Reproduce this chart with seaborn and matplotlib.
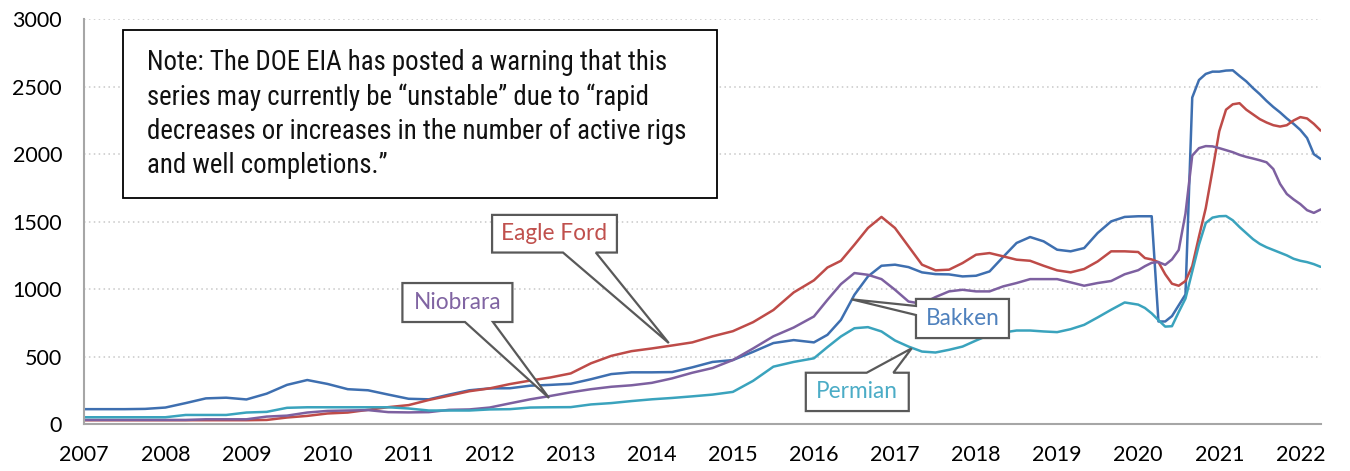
import numpy as np
import pandas as pd
import matplotlib
matplotlib.use("Agg")
import matplotlib.pyplot as plt
from matplotlib import font_manager as fm
from matplotlib.patches import Polygon, Rectangle
import seaborn as sns

# ---------------- data ----------------
quarter_months = [f"{y}-{m:02d}" for y in range(2007, 2016) for m in (1, 4, 7, 10)]
bimonth_months = [f"{y}-{m:02d}" for y in range(2016, 2020) for m in (1, 3, 5, 7, 9, 11)]
monthly_months = [f"{y}-{m:02d}" for y in range(2020, 2023) for m in range(1, 13)][:28]
months = quarter_months + bimonth_months + monthly_months

bakken = [
    110, 110, 110, 112, 122, 155, 190, 195, 182, 225, 290, 326,
    297, 258, 250, 218, 187, 183, 218, 250, 264, 265, 284, 290,
    298, 332, 370, 383, 383, 385, 420, 460, 474, 535, 600, 622,
    605, 661, 772, 958, 1094, 1173,
    1181, 1163, 1124, 1111, 1109, 1094,
    1099, 1131, 1238, 1342, 1386, 1354,
    1292, 1280, 1304, 1416, 1502, 1535,
    1540, 1540, 1540, 760, 760, 800, 880, 960, 2420, 2550, 2595, 2612,
    2612, 2620, 2622, 2580, 2540, 2490, 2445, 2395, 2350, 2310, 2265, 2225,
    2180, 2120, 2000, 1965,
]
eagle_ford = [
    28, 28, 28, 28, 28, 28, 28, 28, 28, 30, 48, 60,
    78, 85, 105, 125, 140, 178, 210, 243, 264, 296, 322, 345,
    375, 450, 505, 540, 560, 582, 605, 650, 688, 755, 845, 975,
    1065, 1160, 1210, 1329, 1453, 1535,
    1453, 1317, 1181, 1139, 1144, 1193,
    1255, 1267, 1243, 1218, 1210, 1173,
    1139, 1124, 1149, 1205, 1280, 1280,
    1275, 1230, 1220, 1200, 1110, 1040, 1025, 1060, 1170, 1390, 1600, 1880,
    2170, 2330, 2370, 2378, 2330, 2295, 2260, 2235, 2215, 2205, 2215, 2250,
    2275, 2265, 2225, 2175,
]
niobrara = [
    30, 30, 30, 30, 30, 30, 35, 35, 35, 55, 62, 85,
    97, 100, 103, 88, 86, 88, 105, 108, 122, 153, 183, 208,
    235, 258, 276, 287, 305, 338, 380, 415, 474, 560, 650, 715,
    797, 920, 1037, 1119, 1106, 1074,
    995, 908, 891, 941, 983, 995,
    983, 983, 1020, 1045, 1074, 1074,
    1074, 1050, 1025, 1045, 1060, 1110,
    1140, 1170, 1195, 1200, 1180, 1220, 1290, 1560, 1990, 2045, 2060, 2058,
    2045, 2030, 2015, 1995, 1980, 1968, 1955, 1940, 1890, 1780, 1705, 1665,
    1630, 1585, 1565, 1590,
]
permian = [
    50, 50, 50, 50, 50, 67, 67, 67, 85, 90, 120, 124,
    124, 124, 124, 124, 115, 100, 100, 100, 108, 110, 122, 124,
    125, 145, 155, 170, 183, 193, 205, 218, 238, 320, 425, 460,
    487, 570, 649, 710, 718, 686,
    619, 574, 537, 530, 550, 574,
    619, 661, 678, 693, 693, 686,
    681, 703, 735, 790, 847, 901,
    885, 860, 820, 770, 722, 725, 830, 930, 1130, 1330, 1490, 1530,
    1540, 1542, 1510, 1460, 1415, 1370, 1335, 1310, 1290, 1270, 1250, 1225,
    1210, 1200, 1185, 1165,
]

series_names = ["Bakken", "Eagle Ford", "Niobrara", "Permian"]
line_colors = ["#3E6FB0", "#BE4B48", "#7D60A0", "#3AA3BD"]
label_colors = ["#4F81BD", "#C0504D", "#8064A2", "#4BACC6"]
year_ticks = list(range(2007, 2023))
y_ticks = [0, 500, 1000, 1500, 2000, 2500, 3000]
note_text = ("Note: The DOE EIA has posted a warning that this\n"
             "series may currently be \u201cunstable\u201d due to \u201crapid\n"
             "decreases or increases in the number of active rigs\n"
             "and well completions.\u201d")

# ---------------- frame ----------------
def frac_year(s):
    y, m = s.split("-")
    return int(y) + (int(m) - 1) / 12.0

x = [frac_year(s) for s in months]
frames = []
for name, vals in zip(series_names, [bakken, eagle_ford, niobrara, permian]):
    frames.append(pd.DataFrame({"year": x, "value": vals, "series": name}))
df = pd.concat(frames, ignore_index=True)

sns.set_theme(style="white")
available = {f.name for f in fm.fontManager.ttflist}
base_font = "Lato" if "Lato" in available else "DejaVu Sans"
narrow_font = None
for cand in ["Liberation Sans Narrow", "Roboto Condensed", "DejaVu Sans Condensed",
             "Open Sans Condensed", "Noto Sans Condensed"]:
    if cand in available:
        narrow_font = cand
        break
plt.rcParams["font.family"] = [base_font, "DejaVu Sans"]

fig = plt.figure(figsize=(13.5, 4.71), dpi=100)
ax = fig.add_axes([84.3 / 1350, 47 / 471, (1321 - 84.3) / 1350, 404.7 / 471])

sns.lineplot(data=df, x="year", y="value", hue="series", hue_order=series_names,
             palette=line_colors, linewidth=1.8, ax=ax, legend=False,
             estimator=None, sort=False)

ax.set_xlim(2007, 2022.255)
ax.set_ylim(0, 3000)
ax.set_xticks(year_ticks)
ax.set_xticklabels([str(t) for t in year_ticks])
ax.set_yticks(y_ticks)
ax.set_xlabel("")
ax.set_ylabel("")
ax.yaxis.grid(True, linestyle=(0, (1, 2.2)), color="#C8C8C8", linewidth=1.1)
ax.xaxis.grid(False)
ax.set_axisbelow(True)
for side in ["top", "right"]:
    ax.spines[side].set_visible(False)
for side in ["left", "bottom"]:
    ax.spines[side].set_color("#A6A6A6")
    ax.spines[side].set_linewidth(1.5)
ax.tick_params(axis="both", which="major", direction="out", length=6, width=1.3,
               color="#A6A6A6", labelsize=15.5, labelcolor="black")
ax.tick_params(axis="x", pad=9)
ax.tick_params(axis="y", pad=10)

# ---------------- note box ----------------
ax.add_patch(Rectangle((2007.477, 1675), 2014.804 - 2007.477, 2921 - 1675,
                       facecolor="white", edgecolor="black", linewidth=1.3, zorder=5))
note_family = [narrow_font, "DejaVu Sans"] if narrow_font else ["DejaVu Sans"]
note_size = 19.4 if narrow_font else 15
ax.text(2007.773, 2300, note_text, ha="left", va="center", fontsize=note_size,
        family=note_family, linespacing=1.33, color="#111111", zorder=6)

# ---------------- callouts ----------------
def callout(ax, label, color, x0, x1, y0, y1, tip, base, edge):
    if edge == "bottom":
        pts = [(x0, y1), (x1, y1), (x1, y0), (base[1], y0), tip, (base[0], y0), (x0, y0)]
    elif edge == "top":
        pts = [(x0, y0), (x0, y1), (base[0], y1), tip, (base[1], y1), (x1, y1), (x1, y0)]
    else:  # left
        pts = [(x0, y1), (x1, y1), (x1, y0), (x0, y0), (x0, base[1]), tip, (x0, base[0])]
    ax.add_patch(Polygon(pts, closed=True, facecolor="white", edgecolor="#595959",
                         linewidth=1.6, zorder=7))
    ax.text((x0 + x1) / 2, (y0 + y1) / 2, label, ha="center", va="center",
            fontsize=16.3, color=color, zorder=8)

callout(ax, "Eagle Ford", label_colors[1], 2012.03, 2013.57, 1271, 1550,
        (2014.21, 600), (2012.905, 2013.31), "bottom")
callout(ax, "Niobrara", label_colors[2], 2010.924, 2012.281, 756, 1045,
        (2012.732, 193), (2011.696, 2012.041), "bottom")
callout(ax, "Bakken", label_colors[0], 2017.259, 2018.406, 637, 927,
        (2016.466, 924), (875, 808), "left")
callout(ax, "Permian", label_colors[3], 2015.90, 2017.17, 96, 380,
        (2017.206, 561), (2016.651, 2016.98), "top")

fig.savefig("out.png", dpi=100, facecolor="white")
